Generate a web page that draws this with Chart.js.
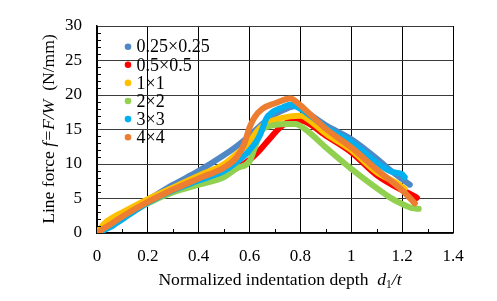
<!DOCTYPE html>
<html>
<head>
<meta charset="utf-8">
<script src="https://cdn.jsdelivr.net/npm/chart.js@4"></script>
<style>
  body { margin: 0; background: #fff; }
  canvas { display: block; }
</style>
</head>
<body>
<canvas id="chart" width="497" height="301"></canvas>
<script>
// series labels + colours (same order as the legend)
const seriesLabels = ['0.25×0.25', '0.5×0.5', '1×1', '2×2', '3×3', '4×4']
const seriesColors = ['#5088C6', '#FF0000', '#FFC000', '#92D050', '#00B0F0', '#ED7D31']

const xTickLabels = ['0', '0.2', '0.4', '0.6', '0.8', '1', '1.2', '1.4']
const yTickLabels = ['0', '5', '10', '15', '20', '25', '30']

// d1/t values and line force per series
const x025 = [0, 0.05, 0.1, 0.2, 0.3, 0.4, 0.5, 0.55, 0.6, 0.65, 0.7, 0.75, 0.78, 0.82, 0.9, 1.0, 1.1, 1.15, 1.2, 1.23]
const y025 = [0, 1.3, 2.6, 4.8, 7.0, 9.0, 11.3, 12.6, 14.1, 15.8, 17.2, 18.1, 18.4, 17.6, 15.6, 13.6, 10.8, 9.2, 7.8, 7.0]

const x05 = [0, 0.05, 0.1, 0.2, 0.3, 0.4, 0.5, 0.55, 0.6, 0.64, 0.68, 0.72, 0.76, 0.8, 0.9, 1.0, 1.1, 1.2, 1.24, 1.258]
const y05 = [0, 1.1, 2.3, 4.5, 6.2, 7.4, 8.6, 9.4, 10.6, 12.0, 13.7, 15.3, 16.2, 16.3, 14.1, 11.7, 8.4, 6.2, 5.5, 5.1]

const x1 = [0, 0.03, 0.06, 0.1, 0.2, 0.3, 0.4, 0.5, 0.55, 0.6, 0.63, 0.66, 0.7, 0.76, 0.8, 0.85, 0.9, 1.0, 1.1, 1.18, 1.21]
const y1 = [0, 1.4, 2.2, 3.0, 4.9, 6.6, 8.3, 10.0, 11.5, 13.2, 14.8, 15.8, 16.4, 16.9, 17.0, 15.9, 14.4, 12.0, 8.8, 7.2, 6.4]

const x2 = [0, 0.05, 0.1, 0.2, 0.3, 0.4, 0.5, 0.55, 0.6, 0.62, 0.645, 0.67, 0.75, 0.78, 0.82, 0.9, 1.0, 1.1, 1.15, 1.2, 1.24, 1.265]
const y2 = [0, 1.0, 2.2, 4.3, 5.9, 7.0, 8.1, 9.4, 10.4, 12.3, 14.7, 15.4, 15.8, 15.8, 15.0, 12.4, 9.3, 6.5, 5.2, 4.2, 3.6, 3.5]

const x3 = [0, 0.05, 0.1, 0.2, 0.3, 0.4, 0.5, 0.55, 0.6, 0.64, 0.666, 0.69, 0.73, 0.76, 0.8, 0.9, 1.0, 1.1, 1.15, 1.18, 1.2, 1.21]
const y3 = [0, 0.8, 2.0, 4.4, 6.2, 7.6, 9.0, 10.3, 12.0, 14.1, 16.6, 17.5, 18.2, 18.6, 18.0, 15.3, 13.2, 10.2, 9.0, 8.7, 8.5, 8.1]

const x4 = [0, 0.05, 0.1, 0.2, 0.3, 0.4, 0.5, 0.55, 0.58, 0.6, 0.62, 0.65, 0.7, 0.76, 0.8, 0.85, 0.9, 1.0, 1.1, 1.2, 1.25]
const y4 = [0, 1.2, 2.4, 4.5, 6.3, 7.9, 9.5, 11.0, 13.0, 15.3, 16.8, 18.0, 18.8, 19.5, 18.5, 16.8, 15.1, 12.4, 9.2, 6.2, 4.3]

const xs = [x025, x05, x1, x2, x3, x4]
const ys = [y025, y05, y1, y2, y3, y4]

const FONT = "'Liberation Serif', 'Times New Roman', serif"

// draws a run of text pieces with their own fonts, centred on (cx, cy)
function drawRich (ctx, pieces, cx, cy, angle) {
  let total = 0
  pieces.forEach(p => {
    ctx.font = p.font
    p.w = ctx.measureText(p.text).width
    total += p.w
  })
  ctx.save()
  ctx.translate(cx, cy)
  ctx.rotate(angle)
  ctx.fillStyle = '#000'
  ctx.textBaseline = 'alphabetic'
  let x = -total / 2
  pieces.forEach(p => {
    ctx.font = p.font
    ctx.fillText(p.text, x, p.dy || 0)
    x += p.w
  })
  ctx.restore()
}

const extras = {
  id: 'extras',
  afterDraw (chart) {
    const { ctx, chartArea, scales } = chart
    const sx = scales.x
    const sy = scales.y
    ctx.save()
    ctx.strokeStyle = '#000'
    ctx.lineWidth = 1
    // inward minor ticks
    for (let i = 1; i < 14; i += 2) {
      const px = Math.round(sx.getPixelForValue(i / 10)) + 0.5
      ctx.beginPath()
      ctx.moveTo(px, chartArea.bottom)
      ctx.lineTo(px, chartArea.bottom - 4)
      ctx.stroke()
    }
    for (let v = 1; v < 30; v++) {
      if (v % 5 === 0) continue
      const py = Math.round(sy.getPixelForValue(v)) + 0.5
      ctx.beginPath()
      ctx.moveTo(chartArea.left, py)
      ctx.lineTo(chartArea.left + 4, py)
      ctx.stroke()
    }

    // legend inside the plot
    ctx.textBaseline = 'middle'
    ctx.font = '18px ' + FONT
    seriesLabels.forEach((label, i) => {
      const y = 46.7 + i * 18.1
      ctx.fillStyle = seriesColors[i]
      ctx.beginPath()
      ctx.arc(128, y, 3.3, 0, Math.PI * 2)
      ctx.fill()
      ctx.fillStyle = '#000'
      ctx.fillText(label, 136.5, y + 1)
    })
    ctx.restore()

    // axis titles
    const reg = '17.6px ' + FONT
    const ita = 'italic 17.6px ' + FONT
    drawRich(ctx, [
      { text: 'Normalized indentation depth  ', font: reg },
      { text: 'd', font: ita },
      { text: '1', font: '11.5px ' + FONT, dy: 3 },
      { text: '/t', font: ita }
    ], 280, 285, 0)
    drawRich(ctx, [
      { text: 'Line force ', font: reg },
      { text: 'f=F/W', font: ita },
      { text: '  (N/mm)', font: reg }
    ], 54, 129, -Math.PI / 2)
  }
}

const datasets = seriesLabels.map((label, i) => ({
  label,
  data: xs[i].map((x, j) => ({ x, y: ys[i][j] })),
  borderColor: seriesColors[i],
  backgroundColor: seriesColors[i],
  order: seriesLabels.length - i,
  borderWidth: 6,
  pointRadius: 0,
  cubicInterpolationMode: 'monotone',
  borderCapStyle: 'round',
  borderJoinStyle: 'round'
}))

const tickFont = { family: FONT, size: 17 }

new Chart(document.getElementById('chart').getContext('2d'), {
  type: 'line',
  data: { datasets },
  options: {
    responsive: false,
    animation: false,
    devicePixelRatio: 1,
    layout: { padding: { left: 0, top: 26, right: 44, bottom: 0 } },
    plugins: {
      legend: { display: false },
      tooltip: { enabled: false }
    },
    scales: {
      x: {
        type: 'linear',
        min: 0,
        max: 1.4,
        ticks: {
          stepSize: 0.2,
          padding: 13,
          color: '#000',
          font: tickFont,
          maxRotation: 0,
          callback: (v, i) => xTickLabels[i]
        },
        grid: { color: '#000', lineWidth: 1, drawTicks: false },
        border: { color: '#000', width: 1.5 },
        afterFit: s => { s.height = 68 }
      },
      y: {
        min: 0,
        max: 30,
        ticks: {
          stepSize: 5,
          padding: 15,
          color: '#000',
          font: tickFont,
          callback: (v, i) => yTickLabels[i]
        },
        grid: { color: '#3a3a3a', lineWidth: 1, drawTicks: false },
        border: { color: '#000', width: 1.5 },
        afterFit: s => { s.width = 97 }
      }
    }
  },
  plugins: [extras]
})
</script>
</body>
</html>
